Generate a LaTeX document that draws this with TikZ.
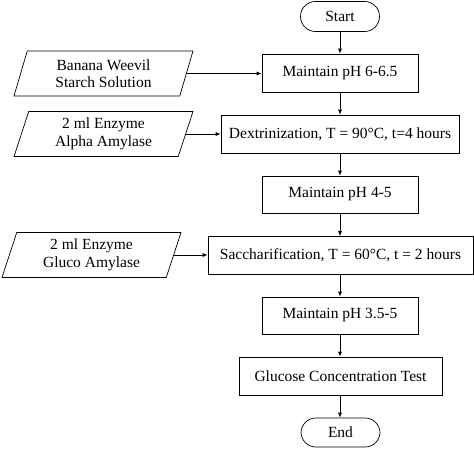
\documentclass[tikz,border=0pt]{standalone}
\usepackage{fontspec}
\setmainfont{Liberation Serif}
\usetikzlibrary{shapes.geometric,arrows.meta}
\begin{document}
\begin{tikzpicture}[x=1pt,y=-1pt,line width=0.7pt,
  every node/.style={font=\fontsize{15.5}{17.5}\selectfont,inner sep=0pt,align=center},
  proc/.style={draw,rectangle,minimum height=38pt},
  term/.style={draw,rectangle,rounded corners=14.9pt,minimum width=79pt,minimum height=30pt},
  data/.style={draw,trapezium,trapezium left angle=65,trapezium right angle=115,
    trapezium stretches body,minimum width=179pt,minimum height=45pt},
  flow/.style={-{Latex[length=5pt,width=4pt]}}]
\useasboundingbox (0,0) rectangle (474,450);
\node [term] (start) at (340,16.5) {Start};
\node [proc,minimum width=156pt] (ph1) at (340,73) {Maintain pH 6-6.5};
\node [proc,minimum width=238pt] (dextr) at (340,134) {Dextrinization, T = 90°C, t=4 hours};
\node [proc,minimum width=156pt,minimum height=37pt] (ph2) at (340,194.5) {Maintain pH 4-5};
\node [proc,minimum width=265pt,minimum height=37.5pt] (sacch) at (340.5,255.3) {Saccharification, T = 60°C, t = 2 hours};
\node [proc,minimum width=156pt,minimum height=37pt] (ph3) at (340,315.5) {Maintain pH 3.5-5};
\node [proc,minimum width=203pt] (test) at (340.5,376) {Glucose Concentration Test};
\node [term,minimum height=29pt] (end) at (340.5,432.5) {End};
\node [data] (starch) at (103.5,73.5) {Banana Weevil\\Starch Solution};
\node [data] (alpha) at (103.5,134) {2 ml Enzyme\\Alpha Amylase};
\node [data] (gluco) at (91.5,255) {2 ml Enzyme\\Gluco Amylase};
\draw [flow] (start) -- (ph1);
\draw [flow] (ph1) -- (dextr);
\draw [flow] (dextr) -- (ph2);
\draw [flow] (ph2.south) -- (ph2.south |- sacch.north);
\draw [flow] (ph2.south |- sacch.south) -- (ph2.south |- ph3.north);
\draw [flow] (ph3.south) -- (ph3.south |- test.north);
\draw [flow] (ph3.south |- test.south) -- (ph3.south |- end.north);
\draw [flow] (starch.east) -- (starch.east -| ph1.west);
\draw [flow] (alpha.east) -- (alpha.east -| dextr.west);
\draw [flow] (gluco.east) -- (gluco.east -| sacch.west);
\end{tikzpicture}
\end{document}
